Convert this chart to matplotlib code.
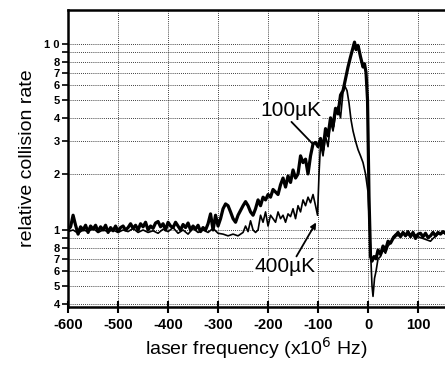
import matplotlib
matplotlib.use("Agg")
import matplotlib.pyplot as plt

plt.rcParams["font.family"] = ["Liberation Sans", "DejaVu Sans"]

# 100 uK curve (thick)
x_100 = [-600, -595, -590, -585, -580, -575, -570, -565, -560, -555, -550, -545, -540,
         -535, -530, -525, -520, -515, -510, -505, -500, -495, -490, -485, -480, -475,
         -470, -465, -460, -455, -450, -445, -440, -435, -430, -425, -420, -415, -410,
         -405, -400, -395, -390, -385, -380, -375, -370, -365, -360, -355, -350, -345,
         -340, -335, -330, -325, -320, -315, -310, -305, -300, -295, -290, -285, -280,
         -275, -270, -265, -260, -250, -245, -240, -235, -230, -225, -220, -215, -210,
         -205, -200, -195, -190, -185, -180, -175, -170, -165, -160, -155, -150, -145,
         -140, -135, -130, -125, -120, -115, -110, -105, -100, -95, -90, -85, -80, -75,
         -70, -65, -60, -55, -50, -45, -40, -35, -30, -27, -24, -20, -15, -10, -7, -4,
         -1, 2, 5, 8, 12, 16, 20, 25, 30, 35, 40, 45, 50, 55, 60, 65, 70, 75, 80, 85,
         90, 95, 100, 105, 110, 115, 120, 125, 130, 135, 140, 145, 150, 155]
y_100 = [1.0, 1.04, 1.2, 1.06, 0.95, 1.04, 1.0, 1.06, 0.97, 1.05, 1.01, 1.06, 0.98,
         1.04, 1.0, 1.06, 0.97, 1.03, 0.99, 1.05, 0.98, 1.03, 1.05, 1.0, 1.03, 1.08,
         1.02, 1.06, 1.0, 1.08, 1.04, 1.1, 1.0, 1.05, 1.02, 1.09, 1.11, 1.04, 1.08,
         1.0, 1.1, 1.05, 1.03, 1.1, 1.05, 1.0, 1.07, 1.03, 1.09, 1.0, 1.05, 1.01,
         1.06, 0.98, 1.03, 1.0, 1.08, 1.22, 1.0, 1.2, 1.05, 1.15, 1.3, 1.38, 1.35,
         1.25, 1.15, 1.1, 1.2, 1.35, 1.42, 1.35, 1.25, 1.2, 1.3, 1.45, 1.35, 1.5,
         1.45, 1.55, 1.5, 1.65, 1.6, 1.55, 1.75, 1.9, 1.7, 1.95, 1.8, 2.1, 1.9,
         2.0, 2.5, 2.3, 2.4, 2.0, 2.5, 2.9, 2.95, 2.8, 3.1, 2.7, 3.5, 3.2, 4.0,
         3.6, 4.5, 4.2, 5.3, 5.6, 6.5, 7.5, 8.5, 9.5, 10.2, 9.3, 9.8, 8.5, 7.5, 7.8, 7.0,
         5.0, 1.5, 0.72, 0.68, 0.72, 0.7, 0.78, 0.74, 0.82, 0.78, 0.87, 0.85, 0.9, 0.93,
         0.97, 0.92, 0.97, 0.93, 0.98, 0.92, 0.97, 0.9, 0.95, 0.96, 0.92, 0.96, 0.91,
         0.93, 0.97, 0.93, 0.97, 0.95, 0.98, 0.96]

# 400 uK curve (thin)
x_400 = [-600, -590, -580, -570, -560, -550, -540, -530, -520, -510, -500, -490, -480,
         -470, -460, -450, -440, -430, -420, -410, -400, -390, -380, -370, -360, -350,
         -340, -330, -320, -310, -300, -290, -280, -270, -260, -250, -245, -240, -235,
         -230, -225, -220, -215, -210, -205, -200, -195, -190, -185, -180, -175, -170,
         -165, -160, -155, -150, -145, -140, -135, -130, -125, -120, -115, -110, -105,
         -101, -98, -95, -90, -85, -80, -75, -70, -65, -60, -55, -50, -46, -42, -38,
         -34, -30, -25, -20, -15, -10, -5, 0, 4, 8, 10, 13, 16, 20, 25, 30, 35, 40, 45,
         50, 55, 60, 70, 80, 90, 100, 110, 120, 125, 130, 140, 150, 155]
y_400 = [0.98, 1.0, 0.96, 1.0, 0.98, 1.02, 0.97, 1.0, 0.98, 1.0, 0.97, 1.0, 0.98,
         1.02, 0.97, 1.0, 0.97, 0.99, 0.96, 1.01, 0.98, 1.03, 0.96, 1.0, 0.95, 1.02,
         0.97, 1.0, 0.97, 1.02, 0.96, 0.95, 0.93, 0.95, 0.93, 0.97, 1.05, 0.98, 1.12,
         1.0, 0.97, 1.0, 1.2, 1.1, 1.25, 1.05, 1.2, 1.15, 1.1, 1.25, 1.15, 1.2,
         1.1, 1.22, 1.18, 1.3, 1.15, 1.35, 1.25, 1.45, 1.35, 1.5, 1.4, 1.55, 1.35,
         1.2, 2.0, 2.9, 2.5, 3.2, 2.8, 3.8, 3.4, 4.2, 4.6, 4.0, 5.5, 5.9, 5.6, 4.8,
         3.9, 3.4, 3.0, 2.7, 2.5, 2.3, 2.0, 1.6, 0.9, 0.5, 0.44, 0.55, 0.6, 0.7, 0.72,
         0.78, 0.75, 0.82, 0.85, 0.92, 0.95, 0.93, 0.96, 0.94, 0.96, 0.92, 0.9, 0.88,
         0.87, 0.9, 0.95, 0.97, 0.95]

x_ticks = [-600, -500, -400, -300, -200, -100, 0, 100]
y_ticks = [0.4, 0.5, 0.6, 0.7, 0.8, 0.9, 1, 2, 3, 4, 5, 6, 7, 8, 9, 10]
y_tick_labels = ["4", "5", "6", "7", "8", "", "1", "2", "3", "4", "5", "6", "7", "8", "", "1 0"]

fig = plt.figure(figsize=(4.45, 3.65), dpi=100)
ax = fig.add_axes([0.153, 0.159, 0.847, 0.814])

ax.plot(x_400, y_400, color="black", linewidth=1.2, zorder=3)
ax.plot(x_100, y_100, color="black", linewidth=2.3, zorder=4)

ax.set_yscale("log")
ax.set_xlim(-600, 154)
ax.set_ylim(0.386, 15.2)

ax.set_xticks(x_ticks)
ax.set_xticklabels([str(v) for v in x_ticks], fontsize=10.5, fontweight="bold")
ax.set_yticks(y_ticks)
ax.set_yticklabels(y_tick_labels, fontsize=8, fontweight="bold")
ax.minorticks_off()
ax.set_yticks(y_ticks)

ax.grid(True, which="major", color="black", linestyle=(0, (1, 1.5)), linewidth=0.6)
ax.tick_params(axis="x", direction="inout", length=8, width=1.5, pad=4)
ax.tick_params(axis="y", direction="out", length=4, width=1.2, pad=2)

for side in ["left", "bottom", "top"]:
    ax.spines[side].set_linewidth(1.8)
ax.spines["right"].set_visible(False)

ax.set_xlabel("laser frequency (x10$^6$ Hz)", fontsize=14, labelpad=2)
ax.set_ylabel("relative collision rate", fontsize=14, labelpad=6)

ax.text(-155, 4.4, "100\u00b5K", fontsize=15, ha="center", va="center",
        bbox=dict(facecolor="white", edgecolor="none", pad=0.5), zorder=5)
ax.annotate("", xy=(-108, 2.85), xytext=(-157, 3.9),
            arrowprops=dict(arrowstyle="-", color="black", lw=1.3), zorder=5)
ax.text(-165, 0.64, "400\u00b5K", fontsize=15, ha="center", va="center",
        bbox=dict(facecolor="white", edgecolor="none", pad=0.5), zorder=5)
ax.annotate("", xy=(-101, 1.13), xytext=(-146, 0.7),
            arrowprops=dict(arrowstyle="-|>", color="black", lw=1.3, mutation_scale=8), zorder=5)

fig.savefig("out.png", dpi=100)
